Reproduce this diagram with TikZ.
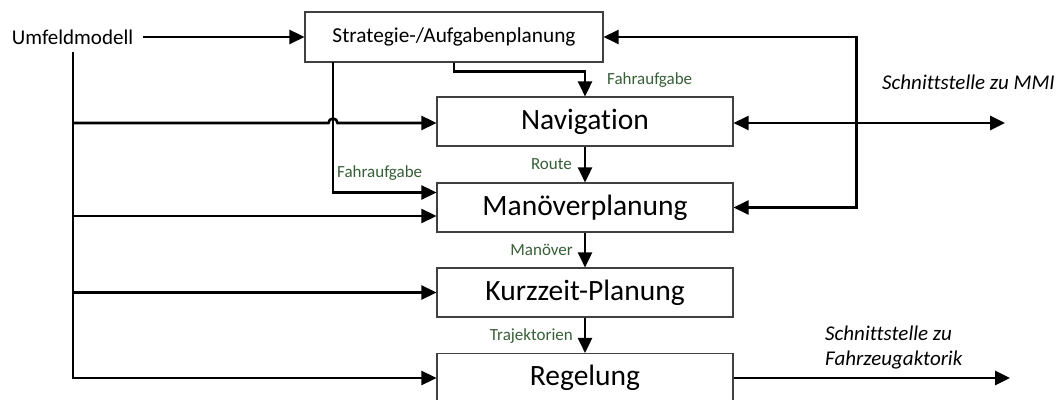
\documentclass[tikz,border=0pt]{standalone}
\usepackage{fontspec}
\setmainfont{Carlito}[Ligatures=NoCommon]
\usetikzlibrary{arrows.meta,calc}
\definecolor{labelgreen}{RGB}{55,95,55}
\begin{document}
\begin{tikzpicture}[x=1pt,y=1pt,
  block/.style={draw=black!75, line width=1.1pt, minimum width=296pt, minimum height=49pt,
    inner sep=0pt, font=\fontsize{29.5}{32}\selectfont},
  topblock/.style={draw=black!75, line width=1.1pt, minimum width=298pt, minimum height=50pt,
    inner sep=0pt, font=\fontsize{21.3}{25}\selectfont},
  line/.style={line width=2.6pt},
  conn/.style={line, -{Triangle[length=15pt,width=14pt]}},
  both/.style={line, {Triangle[length=15pt,width=14pt]}-{Triangle[length=15pt,width=14pt]}},
  flowlabel/.style={text=labelgreen, font=\fontsize{17}{20}\selectfont, inner sep=0pt},
  iface/.style={font=\fontsize{21}{25.5}\selectfont\itshape, inner sep=0pt, align=left},
]
\useasboundingbox (0,0) rectangle (1062,399);
\clip (0,0) rectangle (1062,399);

% input and planning blocks
\node[inner sep=0pt, font=\fontsize{21}{25}\selectfont] (umf) at (72.5,362) {Umfeldmodell};
\node[topblock] (strat) at (454,362) {Strategie-/Aufgabenplanung};
\node[block] (nav) at (585,277.5) {Navigation};
\node[block] (man) at (585,191.5) {Manöverplanung};
\node[block] (kur) at (585,106.5) {Kurzzeit-Planung};
\node[block] (reg) at (585,21) {Regelung};

% trunk of the environment model and its branches
\coordinate (trunktop) at (73,347);
\coordinate (trunkend) at (73,21);
\coordinate (bnav) at (73,276);
\coordinate (hop) at (328.5,276);
\coordinate (bman) at (73,183);
\coordinate (bkur) at (73,106.5);

\draw[conn] ([xshift=10pt]umf.east) -- (strat.west);
\draw[conn] (trunktop) -- (trunkend) -- (reg.west);
\draw[conn] (bnav) -- (hop) arc[start angle=180, end angle=0, radius=4.5pt] -- (bnav -| nav.west);
\draw[conn] (bman) -- (bman -| man.west);
\draw[conn] (bkur) -- (kur.west);

% driving task from strategy planning
\coordinate (sl) at (333,337);
\draw[conn] (sl) |- ($(man.west)+(0,15)$);
\draw[conn] (strat.south) -- ++(0,-9) -| (nav.north);

% chain of the planning levels
\draw[conn] (nav.south) -- (man.north);
\draw[conn] (man.south) -- (kur.north);
\draw[conn] (kur.south) -- (reg.north);

% feedback on the right and external interfaces
\draw[both] (strat.east) -| ($(man.east)+(123,0)$) -- (man.east);
\coordinate (mmi) at (1005,276);
\draw[both] (nav.east |- mmi) -- (mmi);
\coordinate (akt) at (1010,21);
\draw[conn] (reg.east) -- (akt);

% labels
\node[flowlabel, anchor=west] (lfa1) at (607,319) {Fahraufgabe};
\node[flowlabel, anchor=west] (lfa2) at (337,226) {Fahraufgabe};
\node[flowlabel, anchor=east] (lroute) at (572,235) {Route};
\node[flowlabel, anchor=east] (lman) at (573,149) {Manöver};
\node[flowlabel, anchor=east] (ltraj) at (573,63) {Trajektorien};
\node[iface, anchor=west] (tmmi) at (882,317) {Schnittstelle zu MMI};
\node[iface, anchor=west] (takt) at (825,51.5) {Schnittstelle zu\\Fahrzeugaktorik};
\end{tikzpicture}
\end{document}
